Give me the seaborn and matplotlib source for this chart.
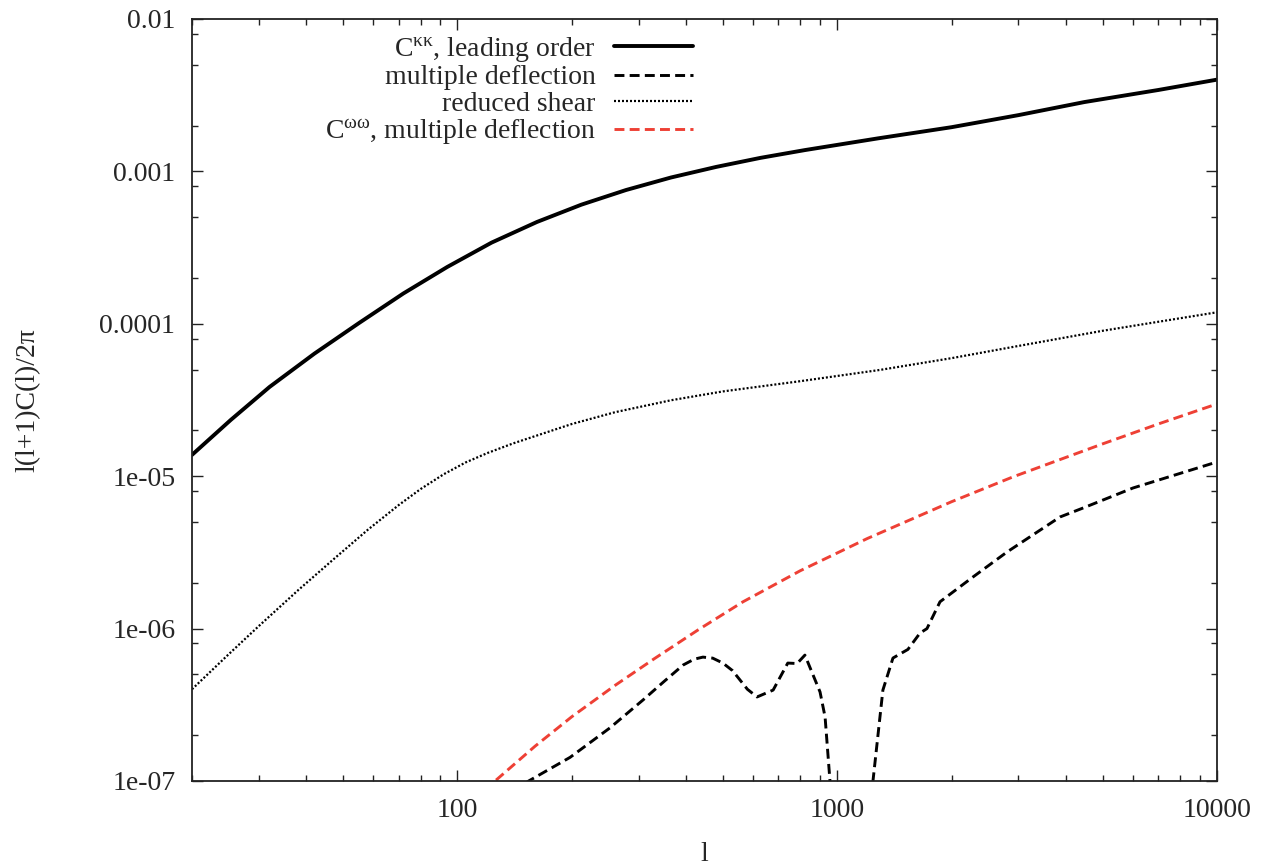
import numpy as np
import pandas as pd
import matplotlib
matplotlib.use("Agg")
import matplotlib.pyplot as plt
import seaborn as sns
from matplotlib.ticker import FixedLocator, NullFormatter

# ---- data ----
l_lead = [20, 25.3, 32, 42, 55, 72, 94, 123, 162, 212, 278, 365, 480, 628, 822, 1282, 2000, 3000, 4472, 7000, 10000]
c_lead = [1.38e-5, 2.34e-5, 3.85e-5, 6.37e-5, 1.01e-4, 1.58e-4, 2.36e-4, 3.41e-4, 4.66e-4, 6.05e-4, 7.55e-4,
          9.12e-4, 1.07e-3, 1.227e-3, 1.38e-3, 1.648e-3, 1.95e-3, 2.34e-3, 2.85e-3, 3.42e-3, 4.0e-3]

l_mult = [140, 154, 198, 252, 308, 350, 393, 420, 443, 470, 500, 530, 580, 615, 678, 741, 784, 822, 901, 929,
          957, 975, 1220, 1242, 1319, 1402, 1535, 1652, 1723, 1865, 2277, 2799, 3860, 4436, 6010, 10000]
c_mult = [8.5e-8, 1.0e-7, 1.43e-7, 2.23e-7, 3.4e-7, 4.5e-7, 5.77e-7, 6.3e-7, 6.5e-7, 6.4e-7, 5.94e-7, 5.3e-7,
          4.0e-7, 3.56e-7, 3.95e-7, 5.94e-7, 5.9e-7, 6.7e-7, 3.84e-7, 2.63e-7,
          1.0e-7, 3e-8, 3e-8, 1.0e-7, 3.95e-7, 6.41e-7, 7.3e-7, 9.35e-7, 1.0e-6, 1.5e-6, 2.18e-6, 3.18e-6,
          5.4e-6, 6.18e-6, 8.37e-6, 1.24e-5]

l_red = [20, 25, 30, 38, 48, 58, 70, 80, 92, 105, 120, 140, 162, 200, 260, 365, 500, 798, 1295, 2000, 2903,
         5000, 10000]
c_red = [4.0e-7, 6.8e-7, 1.04e-6, 1.78e-6, 2.96e-6, 4.44e-6, 6.46e-6, 8.24e-6, 1.03e-5, 1.23e-5, 1.42e-5,
         1.64e-5, 1.85e-5, 2.2e-5, 2.63e-5, 3.15e-5, 3.6e-5, 4.2e-5, 4.98e-5, 5.95e-5, 7.05e-5, 9.0e-5, 1.19e-4]

l_om = [110, 125.6, 160, 200, 260, 330, 430, 565, 800, 1200, 2000, 2903, 5000, 7000, 10000]
c_om = [7.5e-8, 1.0e-7, 1.69e-7, 2.64e-7, 4.24e-7, 6.35e-7, 9.8e-7, 1.5e-6, 2.4e-6, 3.9e-6, 6.8e-6, 9.9e-6,
        1.63e-5, 2.2e-5, 2.98e-5]

labels = [r"C$^{\mathrm{κκ}}$, leading order", "multiple deflection", "reduced shear",
          r"C$^{\mathrm{ωω}}$, multiple deflection"]

y_major = [1e-7, 1e-6, 1e-5, 1e-4, 1e-3, 1e-2]
y_major_labels = ["1e-07", "1e-06", "1e-05", "0.0001", "0.001", "0.01"]
x_major = [100, 1000, 10000]
x_major_labels = ["100", "1000", "10000"]

# ---- style ----
sns.set_style("ticks")
plt.rcParams["font.family"] = ["Liberation Serif", "DejaVu Serif"]
plt.rcParams["mathtext.fontset"] = "custom"
plt.rcParams["mathtext.rm"] = "Liberation Serif"
plt.rcParams["mathtext.it"] = "Liberation Serif:italic"
plt.rcParams["font.size"] = 20

fig = plt.figure(figsize=(12.75, 8.65), dpi=100)
ax = fig.add_axes([192 / 1275, 1 - 781 / 865, (1217 - 192) / 1275, (781 - 19) / 865])
ax.set_xscale("log")
ax.set_yscale("log")

sns.lineplot(x=l_lead, y=c_lead, ax=ax, color="black", lw=2.8, label=labels[0], errorbar=None)
sns.lineplot(x=l_mult, y=c_mult, ax=ax, color="black", lw=2.1, label=labels[1], errorbar=None)
ax.lines[-1].set_dashes((3.4, 1.8))
sns.lineplot(x=l_red, y=c_red, ax=ax, color="black", lw=1.6, label=labels[2], errorbar=None)
ax.lines[-1].set_dashes((0.9, 0.9))
sns.lineplot(x=l_om, y=c_om, ax=ax, color="#ee4035", lw=2.1, label=labels[3], errorbar=None)
ax.lines[-1].set_dashes((3.4, 1.8))

ax.set_xlim(20, 10000)
ax.set_ylim(1e-7, 1e-2)

ax.xaxis.set_major_locator(FixedLocator(x_major))
ax.set_xticklabels(x_major_labels)
xminor = [m * 10 ** e for e in (1, 2, 3) for m in range(2, 10)]
ax.xaxis.set_minor_locator(FixedLocator(xminor))
ax.xaxis.set_minor_formatter(NullFormatter())

ax.yaxis.set_major_locator(FixedLocator(y_major))
ax.set_yticklabels(y_major_labels)
yminor = [m * 10.0 ** e for e in range(-7, -2) for m in (2, 5, 8)]
ax.yaxis.set_minor_locator(FixedLocator(yminor))
ax.yaxis.set_minor_formatter(NullFormatter())

ax.tick_params(which="both", direction="in", top=True, right=True, color="#222222", width=1.0)
ax.tick_params(which="major", length=8, pad=12, labelsize=20)
ax.tick_params(which="minor", length=4.5)
for s in ax.spines.values():
    s.set_linewidth(1.3)
    s.set_color("#222222")

ax.set_xlabel("l", fontsize=20, labelpad=14)
ax.set_ylabel("l(l+1)C(l)/2π", fontsize=20)
ax.yaxis.set_label_coords(-0.148, 0.5)

leg = ax.legend(loc="upper right", bbox_to_anchor=(693 / 1275, 1 - 35 / 865), bbox_transform=fig.transFigure,
                frameon=False, markerfirst=False, borderpad=0, borderaxespad=0, handlelength=2.85,
                handletextpad=0.65, labelspacing=0.03, fontsize=20)

fig.savefig("out.png", dpi=100)
